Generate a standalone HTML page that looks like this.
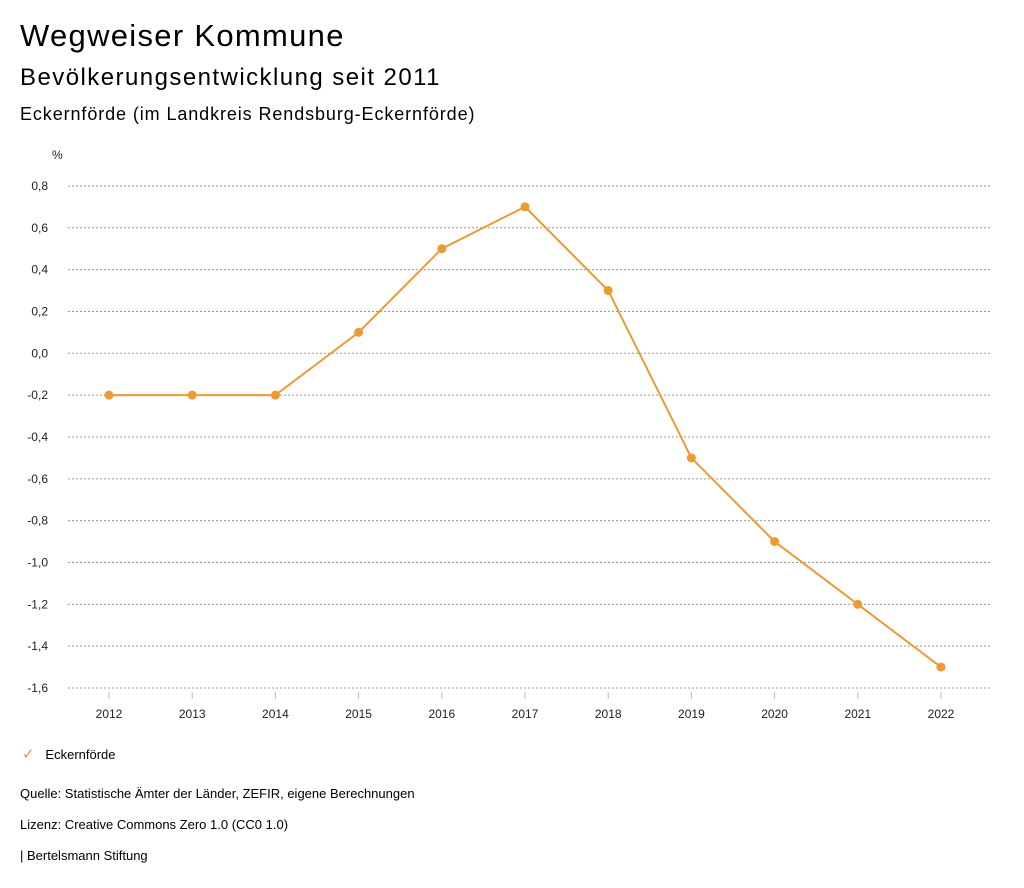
<!DOCTYPE html>
<html><head><meta charset="utf-8"><style>
body{margin:0;width:1024px;height:888px;background:#fff;font-family:"Liberation Sans",sans-serif;color:#000;overflow:hidden}
.t{position:absolute;left:20px;white-space:nowrap}
</style></head><body>
<div class="t" style="top:18px;font-size:31px;letter-spacing:1.3px">Wegweiser Kommune</div>
<div class="t" style="top:64px;font-size:24px;letter-spacing:1.45px">Bevölkerungsentwicklung seit 2011</div>
<div class="t" style="top:104px;font-size:18px;letter-spacing:0.9px">Eckernförde (im Landkreis Rendsburg-Eckernförde)</div>
<svg id="chart" width="1024" height="888" style="position:absolute;left:0;top:0" font-family="Liberation Sans, sans-serif"></svg>
<div class="t" style="top:745px;left:22px;font-size:13px"><span style="color:#ee9a33;font-size:15px">✓</span>&nbsp;&nbsp;&nbsp;Eckernförde</div>
<div class="t" style="top:786px;font-size:13px">Quelle: Statistische Ämter der Länder, ZEFIR, eigene Berechnungen</div>
<div class="t" style="top:817px;font-size:13px">Lizenz: Creative Commons Zero 1.0 (CC0 1.0)</div>
<div class="t" style="top:848px;font-size:13px">| Bertelsmann Stiftung</div>
<script>
const years=["2012","2013","2014","2015","2016","2017","2018","2019","2020","2021","2022"];
const values=[-0.2,-0.2,-0.2,0.1,0.5,0.7,0.3,-0.5,-0.9,-1.2,-1.5];
const yTicks=[0.8,0.6,0.4,0.2,0,-0.2,-0.4,-0.6,-0.8,-1.0,-1.2,-1.4,-1.6];
const svg=document.getElementById('chart');const NS='http://www.w3.org/2000/svg';
const y=v=>353.3-(v)*209.2;
const x=i=>109+i*83.2;
function mk(t,a){const e=document.createElementNS(NS,t);for(const k in a)e.setAttribute(k,a[k]);svg.appendChild(e);return e;}
let u=mk('text',{x:52,y:159,'font-size':12,fill:'#222'});u.textContent='%';


yTicks.forEach(v=>{
 const g=mk('line',{x1:68,x2:990,y1:y(v),y2:y(v),stroke:'#999','stroke-dasharray':'2,2','stroke-width':1});
 
 
 const t=mk('text',{x:48,y:y(v)+4,'text-anchor':'end','font-size':12,fill:'#222'});
 t.textContent=v.toFixed(1).replace('.',',').replace('-0,0','0,0');
 
 
});
years.forEach((yr,i)=>{
 const tk=mk('line',{x1:x(i),x2:x(i),y1:692,y2:699,stroke:'#bbb'});
 
 
 const t=mk('text',{x:x(i),y:718,'text-anchor':'middle','font-size':12,fill:'#222'});t.textContent=yr;
 
 
});
const p=mk('polyline',{points:values.map((v,i)=>x(i)+','+y(v)).join(' '),fill:'none',stroke:'#ee9a33','stroke-width':2});


values.forEach((v,i)=>{
 const c=mk('circle',{cx:x(i),cy:y(v),r:4.5,fill:'#ee9a33'});
 
 
});
</script>
</body></html>
